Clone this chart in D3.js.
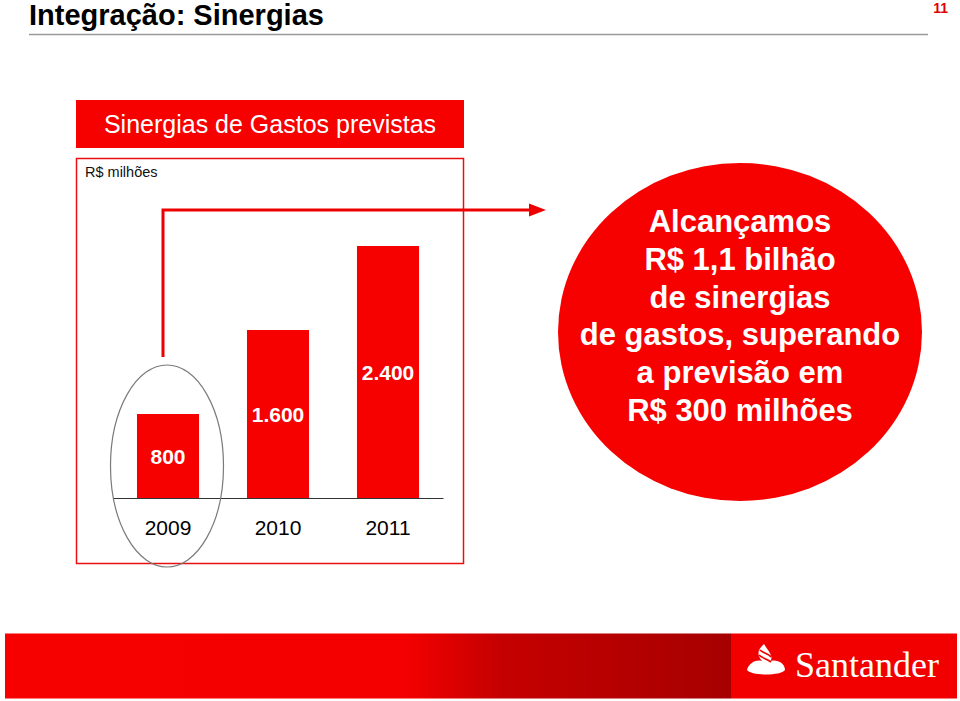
<!DOCTYPE html>
<html>
<head>
<meta charset="utf-8">
<script src="https://cdn.jsdelivr.net/npm/d3@7"></script>
<style>
body{margin:0;background:#fff;}
svg{display:block;font-family:"Liberation Sans",Arial,sans-serif;}
</style>
</head>
<body>
<script>
var WIDTH=960,
	HEIGHT=701

var years=["2009","2010","2011"],
	values=[800,1600,2400],
	valueLabels=["800","1.600","2.400"],
	calloutLines=["Alcançamos","R$ 1,1 bilhão","de sinergias","de gastos, superando","a previsão em","R$ 300 milhões"]

var pageTitle="Integração: Sinergias",
	pageNumber="11",
	boxTitle="Sinergias de Gastos previstas",
	unitLabel="R$ milhões"

var RED="#f60000"

var svg=d3.select('body').append('svg')
	.attr('width',WIDTH)
	.attr('height',HEIGHT)

// page header
svg.append('text')
	.text(pageTitle)
	.attr('x',29)
	.attr('y',25)
	.style('font-size','29px')
	.style('font-weight','bold')
	.attr('fill','#000')
svg.append('line')
	.attr('x1',29).attr('x2',928)
	.attr('y1',34.5).attr('y2',34.5)
	.attr('stroke','#9a9a9a')
	.attr('stroke-width',1.5)
svg.append('text')
	.text(pageNumber)
	.attr('x',948)
	.attr('y',13)
	.attr('text-anchor','end')
	.style('font-size','14px')
	.style('font-weight','bold')
	.attr('fill','#e00000')

// chart box
svg.append('rect')
	.attr('x',76).attr('y',100)
	.attr('width',388).attr('height',48)
	.attr('fill',RED)
svg.append('text')
	.text(boxTitle)
	.attr('x',270)
	.attr('y',133)
	.attr('text-anchor','middle')
	.style('font-size','25px')
	.attr('fill','#fff')
svg.append('rect')
	.attr('x',76.5).attr('y',158.5)
	.attr('width',387).attr('height',405)
	.attr('fill','none')
	.attr('stroke','#e81010')
	.attr('stroke-width',1.5)
svg.append('text')
	.text(unitLabel)
	.attr('x',85)
	.attr('y',177)
	.style('font-size','14.5px')
	.attr('fill','#111')

var xScale=d3.scaleBand()
	.domain(years)
	.range([113,443])
	.paddingInner(0.436)
	.paddingOuter(0.218)
var yScale=d3.scaleLinear()
	.domain([0,2400])
	.range([498,246])

var xAxis=d3.axisBottom(xScale)
	.tickSize(0)
	.tickPadding(22)
	.tickSizeOuter(0)

svg.append('g')
	.selectAll('rect').data(values)
	.enter()
	.append('rect')
	.attr('x',function(d,i){return xScale(years[i])})
	.attr('y',function(d){return yScale(d)})
	.attr('width',xScale.bandwidth())
	.attr('height',function(d){return yScale(0)-yScale(d)})
	.attr('fill',RED)

svg.append('g')
	.selectAll('text').data(values)
	.enter()
	.append('text')
	.text(function(d,i){return valueLabels[i]})
	.attr('x',function(d,i){return xScale(years[i])+xScale.bandwidth()/2})
	.attr('y',function(d){return (yScale(d)+yScale(0))/2})
	.attr('dy','0.36em')
	.attr('text-anchor','middle')
	.style('font-size','21px')
	.style('font-weight','bold')
	.attr('fill','#fff')

var xGuide=svg.append('g')
	.attr('transform','translate(0,'+yScale(0)+')')
	.call(xAxis)
xGuide.select('.domain').attr('stroke','#333').attr('stroke-width',1.2)
xGuide.selectAll('text')
	.style('font-size','21px')
	.style('font-family','"Liberation Sans",Arial,sans-serif')
	.attr('fill','#000')

// highlight around 2009
svg.append('ellipse')
	.attr('cx',xScale(years[0])+xScale.bandwidth()/2-1)
	.attr('cy',466)
	.attr('rx',56.5)
	.attr('ry',101)
	.attr('fill','none')
	.attr('stroke','#7a7a7a')
	.attr('stroke-width',1.2)

// connector arrow
svg.append('path')
	.attr('d','M163,357 L163,210 L531,210')
	.attr('fill','none')
	.attr('stroke','#ee0000')
	.attr('stroke-width',3)
svg.append('path')
	.attr('d','M529,203.5 L546,210 L529,216.5 Z')
	.attr('fill','#ee0000')

// callout
svg.append('ellipse')
	.attr('cx',740).attr('cy',332)
	.attr('rx',182).attr('ry',169)
	.attr('fill',RED)
svg.append('g')
	.selectAll('text').data(calloutLines)
	.enter()
	.append('text')
	.text(function(d){return d})
	.attr('x',740)
	.attr('y',function(d,i){return 232+i*37.8})
	.attr('text-anchor','middle')
	.style('font-size','31px')
	.style('font-weight','bold')
	.attr('fill','#fff')

// footer band
var grad=svg.append('defs').append('linearGradient')
	.attr('id','footgrad')
	.attr('gradientUnits','userSpaceOnUse')
	.attr('x1',5).attr('x2',731).attr('y1',0).attr('y2',0)
grad.append('stop').attr('offset','0').attr('stop-color','#f70000')
grad.append('stop').attr('offset','0.55').attr('stop-color','#f40000')
grad.append('stop').attr('offset','0.68').attr('stop-color','#c60000')
grad.append('stop').attr('offset','1').attr('stop-color','#a60000')

svg.append('rect')
	.attr('x',5).attr('y',633.5)
	.attr('width',726).attr('height',65)
	.attr('fill','url(#footgrad)')
svg.append('rect')
	.attr('x',731).attr('y',633.5)
	.attr('width',226).attr('height',65)
	.attr('fill','#f20000')

// santander flame
var logo=svg.append('g')
logo.append('path')
	.attr('d','M747,670 C749,662 757,659 763,661 C765,663 768,663 770,661 C777,659 785,663 785,670 C781,676 751,676 747,670 Z')
	.attr('fill','#fff')
logo.append('path')
	.attr('d','M764,644 C757,650 757,655 762,661 C765,664 769,664 771,660 C773,655 768,651 764,644 Z')
	.attr('fill','#fff')
logo.append('path')
	.attr('d','M760,650 C763,653 769,654 771,657 M759,655 C762,658 767,659 771,662')
	.attr('fill','none')
	.attr('stroke','#f20000')
	.attr('stroke-width',1.6)
svg.append('text')
	.text('Santander')
	.attr('x',795)
	.attr('y',677)
	.style('font-family','"Liberation Serif","Times New Roman",serif')
	.style('font-size','36px')
	.attr('fill','#fff')
</script>
</body>
</html>
